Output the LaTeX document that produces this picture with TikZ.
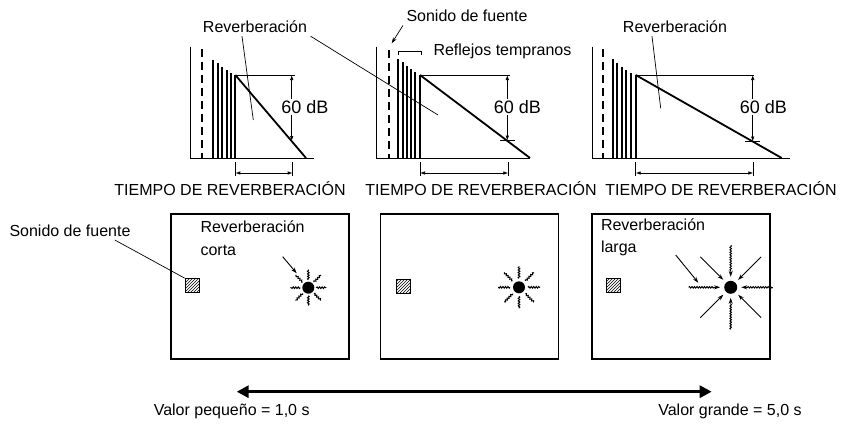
\documentclass[tikz,border=0pt]{standalone}
\usepackage{fontspec}
\setmainfont{Liberation Sans}
\usetikzlibrary{arrows.meta,calc,decorations.pathmorphing,patterns}
\tikzset{
  rv text/.style={font=\fontsize{16}{19}\selectfont},
  rv db/.style={font=\fontsize{18}{21}\selectfont, fill=white, inner sep=1.5pt},
  rv axis/.style={line width=0.9pt},
  rv bar/.style={line width=2pt},
  rv decay/.style={line width=1.8pt},
  rv source/.style={line width=1.8pt, dash pattern=on 8pt off 5pt},
  rv thin/.style={line width=0.7pt},
  rv dim/.style={{Latex[length=5pt,width=3.5pt]}-{Latex[length=5pt,width=3.5pt]}, line width=0.7pt},
  rv leader/.style={line width=0.7pt},
  rv pointer/.style={-{Stealth[length=6pt,width=4pt]}, line width=0.7pt},
  rv room/.style={draw, line width=1.8pt, minimum width=178pt, minimum height=145pt},
  rv speaker/.style={draw, line width=0.8pt, pattern=north east lines, minimum size=14pt, inner sep=0pt},
  rv ear/.style={circle, fill, inner sep=0pt},
  rv ray/.style={line width=1pt, decorate, decoration={snake, amplitude=0.8pt, segment length=2.5pt}},
  rv inarrow/.style={-{Stealth[length=6pt,width=4pt]}, line width=0.9pt},
  rv wavein/.style={rv inarrow, decorate,
    decoration={snake, amplitude=0.8pt, segment length=2.5pt, post length=6pt}},
  rv scale/.style={{Triangle[length=12pt,width=12pt]}-{Triangle[length=12pt,width=12pt]}, line width=3pt}
}

\begin{document}
\begin{tikzpicture}[rv text, x=1pt, y=-1pt]
  \useasboundingbox (0,0) rectangle (842,423);
  % short decay
  \draw[rv axis] (190.7,46.7) -- (190.7,158) -- (314,158);
  \draw[rv source] (202.3,49) -- (202.3,158);
  \foreach \x/\t in {212.7/60,217.7/62.7,222.3/66.7,226.7/70,231/73.3,235.3/75} {\draw[rv bar] (\x,\t) -- (\x,158);}
  \draw[rv decay] (235.3,75) -- (306,158);
  \draw[rv thin] (235.3,75) -- (295,75);
  \draw[rv dim] (291.7,75) -- (291.7,141);
  \draw[rv thin] (235.3,162) -- (235.3,176) (292.7,162) -- (292.7,176);
  \draw[rv dim] (235.3,173) -- (292.7,173);
  \node[rv db] (db1) at (305,107) {60 dB};
  \node (time1) at (230,189) {TIEMPO DE REVERBERACIÓN};
  \coordinate (tail1) at (253.3,120);
  \coordinate (tail2) at (438,115);
  \node (rev1) at (255,26.7) {Reverberación};
  \draw[rv leader] ([xshift=-13pt]rev1.south) -- (tail1);
  \draw[rv leader] (rev1.south east) -- (tail2);
  % medium decay
  \draw[rv axis] (376.7,46.7) -- (376.7,158) -- (530,158);
  \draw[rv source] (389.3,50) -- (389.3,158);
  \foreach \x/\t in {398.3/59.3,402.7/62,406.7/66,410.7/69,415/72,420/75} {\draw[rv bar] (\x,\t) -- (\x,158);}
  \draw[rv decay] (420,75) -- (530,158);
  \draw[rv thin] (420,75) -- (510,75);
  \draw[rv dim] (507.3,75) -- (507.3,140.5);
  \draw[rv thin] (500,140.5) -- (515,140.5);
  \draw[rv thin] (420,162) -- (420,176) (508.3,162) -- (508.3,176);
  \draw[rv dim] (420,173) -- (508.3,173);
  \node[rv db] (db2) at (517.5,107) {60 dB};
  \node (time2) at (481,189) {TIEMPO DE REVERBERACIÓN};
  \coordinate (direct) at (391.7,43.3);
  \node (src top) at (467,16) {Sonido de fuente};
  \draw[rv pointer] (src top.south west) -- (direct);
  \draw[rv thin] (398.3,55) -- (398.3,51) -- (421,51) -- (421,55);
  \node[anchor=west] (early) at (430,51.7) {Reflejos tempranos};
  % long decay
  \draw[rv axis] (592,46.7) -- (592,158) -- (790,158);
  \draw[rv source] (603.3,49) -- (603.3,158);
  \foreach \x/\t in {613.3/59.3,617.3/62.7,621.7/66.7,626/70,630.7/73.3,635.7/75} {\draw[rv bar] (\x,\t) -- (\x,158);}
  \draw[rv decay] (635.7,75) -- (781.7,158);
  \draw[rv thin] (635.7,75) -- (754.3,75);
  \draw[rv dim] (752.7,75) -- (752.7,141.5);
  \draw[rv thin] (745,141.5) -- (760,141.5);
  \draw[rv thin] (635.7,162) -- (635.7,176) (753.3,162) -- (753.3,176);
  \draw[rv dim] (635.7,173) -- (753.3,173);
  \node[rv db] (db3) at (763.3,107) {60 dB};
  \node (time3) at (721,189) {TIEMPO DE REVERBERACIÓN};
  \coordinate (tail3) at (660.7,108.3);
  \node (rev3) at (675,26.7) {Reverberación};
  \draw[rv leader] ([xshift=-23pt]rev3.south) -- (tail3);
  % rooms
  \node[rv room] (room1) at (260,286.5) {};
  \node[rv room] (room2) at (469.5,286.5) {};
  \node[rv room] (room3) at (681,286.2) {};
  \node[rv speaker] (spk1) at (192,285.5) {};
  \node[rv speaker] (spk2) at (403,286) {};
  \node[rv speaker] (spk3) at (613.7,285.5) {};
  \node (src left) at (70,230.7) {Sonido de fuente};
  \draw[rv leader] ([xshift=45pt]src left.south) -- (spk1.north west);
  \node[align=left, anchor=west, font=\fontsize{16}{23.3}\selectfont] (short) at (197,238.3) {Reverberación\\corta};
  \node[align=left, anchor=west, font=\fontsize{16}{22.3}\selectfont] (long) at (597.5,237.2) {Reverberación\\larga};
  % listeners
  \node[rv ear, minimum size=12pt] (ear1) at (308.3,287.7) {};
  \node[rv ear, minimum size=12pt] (ear2) at (519,287.3) {};
  \node[rv ear, minimum size=13pt] (ear3) at (730.7,287.3) {};
  \foreach \a in {0,45,...,315} {\draw[rv ray] ($(ear1.center)+(\a:8)$) -- ++(\a:10);}
  \coordinate (hit1) at (282.7,256.7);
  \draw[rv inarrow] (hit1) -- (296.7,273.3);
  \foreach \a in {0,45,...,315} {\draw[rv ray] ($(ear2.center)+(\a:9)$) -- ++(\a:12);}
  \foreach \a in {45,135,225,315} {\draw[rv inarrow] ($(ear3.center)+(\a:43)$) -- ($(ear3.center)+(\a:10.5)$);}
  \foreach \a in {0,90,180,270} {\draw[rv wavein] ($(ear3.center)+(\a:42)$) -- ($(ear3.center)+(\a:10.5)$);}
  \coordinate (hit3) at (675.7,255);
  \draw[rv inarrow] (hit3) -- (698.3,282.7);
  % scale
  \coordinate (small) at (236.7,391.7);
  \coordinate (large) at (711.7,391.7);
  \draw[rv scale] (small) -- (large);
  \node (val small) at (231.7,411.7) {Valor pequeño = 1,0 s};
  \node (val large) at (730,411.7) {Valor grande = 5,0 s};
\end{tikzpicture}
\end{document}
